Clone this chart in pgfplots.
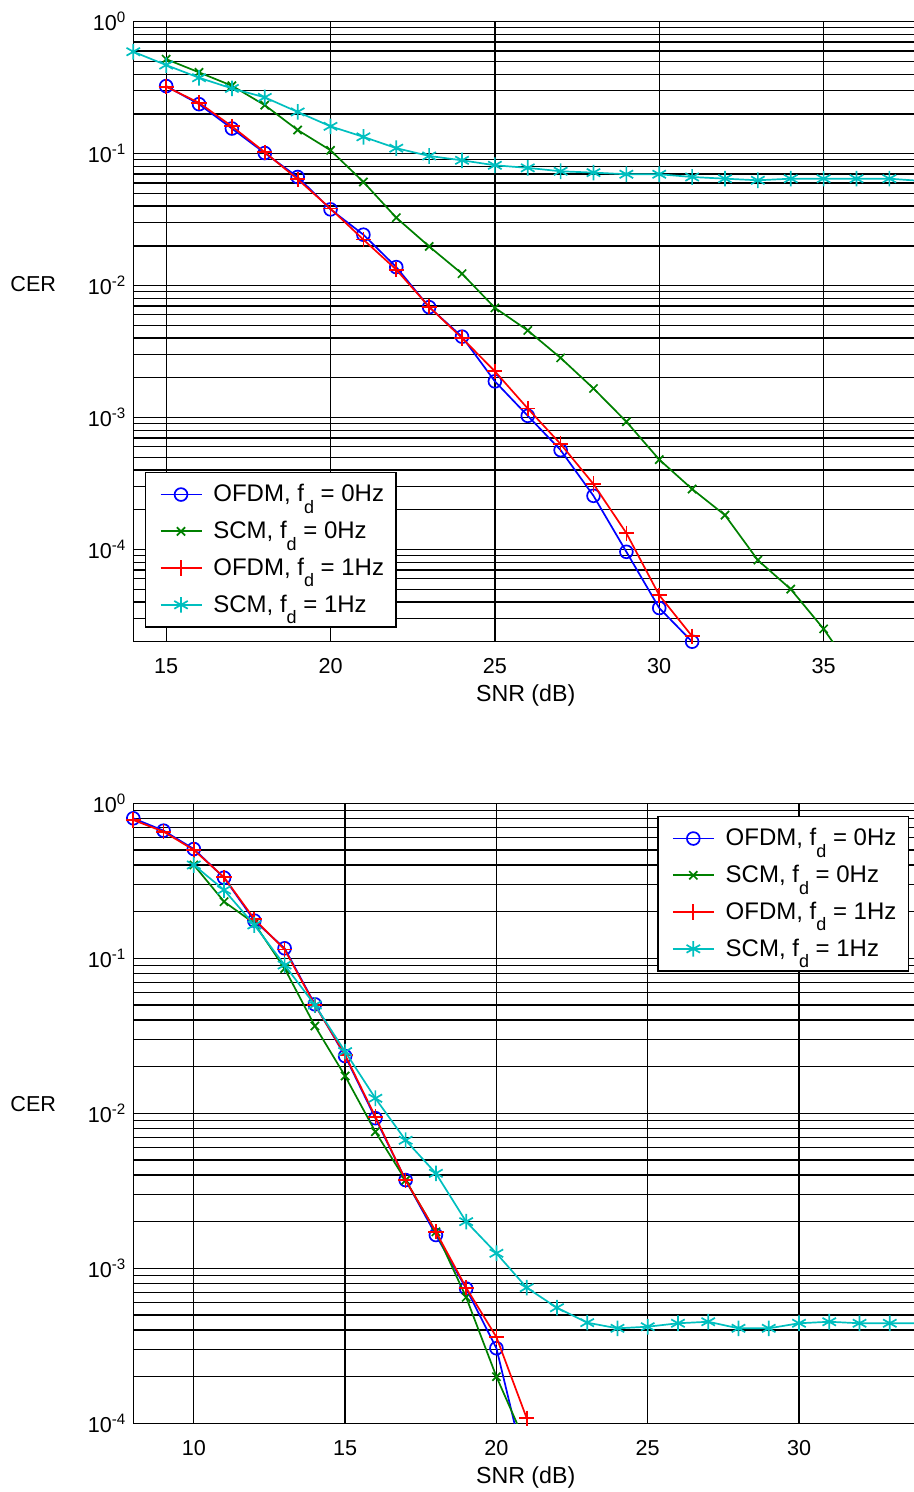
\documentclass[border=0pt]{standalone}
\usepackage{fontspec}
\setmainfont{Liberation Sans}
\usepackage{pgfplots}
\pgfplotsset{compat=1.18}
\definecolor{mblue}{RGB}{0,0,255}
\definecolor{mgreen}{RGB}{0,128,0}
\definecolor{mred}{RGB}{255,0,0}
\definecolor{mcyan}{RGB}{0,191,191}
\newcommand{\sub}{\raisebox{-5.8pt}{\fontsize{9}{9}\selectfont d}}
\pgfplotsset{
    every axis/.append style={
        scale only axis,
        axis x line=bottom, axis y line=left,
        axis line style={-, black, line width=0.65pt},
        xmajorgrids=true, ymajorgrids=true, yminorgrids=true,
        major grid style={black, line width=0.65pt},
        minor grid style={black, line width=0.65pt},
        major tick length=0pt, minor tick length=0pt,
        /pgf/number format/assume math mode=true,
        tick label style={font=\fontsize{10.8}{13}\selectfont},
        xticklabel style={yshift=-5pt},
        clip mode=individual,
        legend cell align=left,
    },
    every axis legend/.append style={font=\fontsize{12}{14}\selectfont, draw=black, line width=0.65pt,
                      row sep=4.2pt, inner xsep=4pt, inner ysep=4pt},
    legend image code/.code={
        \path (-3pt,0pt) (24pt,0pt);
        \draw[#1, mark indices={2}] plot coordinates {(0pt,0pt) (10.25pt,0pt) (20.5pt,0pt)};},
}
\tikzset{
    ofdm0/.style={color=mblue, line width=0.85pt, mark=o, mark size=3.2pt, mark options={line width=0.85pt}},
    scm0/.style={color=mgreen, line width=0.85pt, mark=x, mark size=2.9pt, mark options={line width=0.85pt}},
    ofdm1/.style={color=mred, line width=0.85pt, mark=+, mark size=3.8pt, mark options={line width=0.85pt}},
    scm1/.style={color=mcyan, line width=0.85pt, mark=asterisk, mark size=3.9pt, mark options={line width=0.85pt}},
}
\begin{document}
\begin{tikzpicture}
\useasboundingbox (0,0) rectangle (457pt,746pt);

% upper panel
\begin{semilogyaxis}[
    width=390.35pt, height=310pt,
    at={(66.65pt,425.15pt)}, anchor=south west,
    xmin=14, xmax=37.75,
    ymin=2e-5, ymax=1,
    xtick={15,20,25,30,35},
    ytick={1e-4,1e-3,1e-2,1e-1,1},
    yticklabels={10\textsuperscript{-4},10\textsuperscript{-3},10\textsuperscript{-2},10\textsuperscript{-1},10\textsuperscript{0}},
    minor ytick={3e-5,4e-5,5e-5,6e-5,7e-5,8e-5,9e-5,
                 2e-4,3e-4,4e-4,5e-4,6e-4,7e-4,8e-4,9e-4,
                 2e-3,3e-3,4e-3,5e-3,6e-3,7e-3,8e-3,9e-3,
                 2e-2,3e-2,4e-2,5e-2,6e-2,7e-2,8e-2,9e-2,
                 0.2,0.3,0.4,0.5,0.6,0.7,0.8,0.9},
    legend style={at={(0.015,0.0226)}, anchor=south west},
]
\addplot[ofdm0] coordinates {
    (15,0.325) (16,0.237) (17,0.155) (18,0.101) (19,0.0665) (20,0.0378)
    (21,0.0243) (22,0.0138) (23,0.00686) (24,0.0041) (25,0.00188) (26,0.00103)
    (27,5.66e-4) (28,2.55e-4) (29,9.6e-5) (30,3.6e-5) (31,2.0e-5)
};
\addplot[scm0, mark indices={1,...,21}] coordinates {
    (15,0.52) (16,0.413) (17,0.327) (18,0.233) (19,0.151) (20,0.106)
    (21,0.061) (22,0.0327) (23,0.0198) (24,0.0123) (25,0.00678) (26,0.00457)
    (27,0.00283) (28,0.00166) (29,9.3e-4) (30,4.8e-4) (31,2.87e-4) (32,1.82e-4)
    (33,8.3e-5) (34,5.0e-5) (35,2.5e-5) (36,1.1e-5)
};
\addplot[ofdm1] coordinates {
    (15,0.321) (16,0.243) (17,0.161) (18,0.1025) (19,0.064) (20,0.0383)
    (21,0.0223) (22,0.0132) (23,0.0069) (24,0.0040) (25,0.00224) (26,0.00117)
    (27,6.3e-4) (28,3.13e-4) (29,1.33e-4) (30,4.5e-5) (31,2.2e-5)
};
\addplot[scm1, mark indices={1,...,24}] coordinates {
    (14,0.592) (15,0.469) (16,0.376) (17,0.312) (18,0.267) (19,0.207)
    (20,0.161) (21,0.134) (22,0.110) (23,0.096) (24,0.089) (25,0.0816)
    (26,0.078) (27,0.0735) (28,0.0718) (29,0.0698) (30,0.0698) (31,0.0665)
    (32,0.0646) (33,0.0628) (34,0.0646) (35,0.0646) (36,0.0646) (37,0.0646)
    (38,0.062)
};
\legend{OFDM{,} f\sub\ = 0Hz, SCM{,} f\sub\ = 0Hz, OFDM{,} f\sub\ = 1Hz, SCM{,} f\sub\ = 1Hz}
\end{semilogyaxis}

% lower panel
\begin{semilogyaxis}[
    width=390.35pt, height=310pt,
    at={(66.65pt,34.35pt)}, anchor=south west,
    xmin=8, xmax=33.8,
    ymin=1e-4, ymax=1,
    xtick={10,15,20,25,30},
    ytick={1e-4,1e-3,1e-2,1e-1,1},
    yticklabels={10\textsuperscript{-4},10\textsuperscript{-3},10\textsuperscript{-2},10\textsuperscript{-1},10\textsuperscript{0}},
    minor ytick={2e-4,3e-4,4e-4,5e-4,6e-4,7e-4,8e-4,9e-4,
                 2e-3,3e-3,4e-3,5e-3,6e-3,7e-3,8e-3,9e-3,
                 2e-2,3e-2,4e-2,5e-2,6e-2,7e-2,8e-2,9e-2,
                 0.2,0.3,0.4,0.5,0.6,0.7,0.8,0.9},
    legend style={at={(0.9936,0.98)}, anchor=north east},
]
\addplot[ofdm0, mark indices={1,...,13}] coordinates {
    (8,0.80) (9,0.666) (10,0.507) (11,0.331) (12,0.175) (13,0.116)
    (14,0.0505) (15,0.0234) (16,0.0093) (17,0.00371) (18,0.00164) (19,7.4e-4)
    (20,3.05e-4) (21,4.7e-5)
};
\addplot[scm0, mark indices={1,...,11}] coordinates {
    (10,0.40) (11,0.232) (12,0.168) (13,0.086) (14,0.0366) (15,0.0174)
    (16,0.0076) (17,0.0037) (18,0.00172) (19,6.5e-4) (20,2.0e-4) (21,7.2e-5)
};
\addplot[ofdm1] coordinates {
    (8,0.78) (9,0.656) (10,0.50) (11,0.333) (12,0.179) (13,0.114)
    (14,0.050) (15,0.0238) (16,0.0095) (17,0.0037) (18,0.00172) (19,7.5e-4)
    (20,3.6e-4) (21,1.08e-4)
};
\addplot[scm1, mark indices={1,...,24}] coordinates {
    (10,0.40) (11,0.276) (12,0.164) (13,0.0905) (14,0.050) (15,0.025)
    (16,0.0125) (17,0.0067) (18,0.0041) (19,0.0020) (20,0.00125) (21,7.5e-4)
    (22,5.57e-4) (23,4.46e-4) (24,4.1e-4) (25,4.2e-4) (26,4.42e-4) (27,4.52e-4)
    (28,4.1e-4) (29,4.1e-4) (30,4.42e-4) (31,4.52e-4) (32,4.42e-4) (33,4.42e-4)
    (34,4.42e-4)
};
\legend{OFDM{,} f\sub\ = 0Hz, SCM{,} f\sub\ = 0Hz, OFDM{,} f\sub\ = 1Hz, SCM{,} f\sub\ = 1Hz}
\end{semilogyaxis}

% axis titles
\node[font=\fontsize{10.8}{13}\selectfont] at (16.65pt,603.75pt) {CER};
\node[font=\fontsize{10.8}{13}\selectfont] at (16.65pt,193.75pt) {CER};
\node[font=\fontsize{11.6}{13}\selectfont] at (262.85pt,398.15pt) {SNR (dB)};
\node[font=\fontsize{11.6}{13}\selectfont] at (262.85pt,7.15pt) {SNR (dB)};
\end{tikzpicture}
\end{document}
